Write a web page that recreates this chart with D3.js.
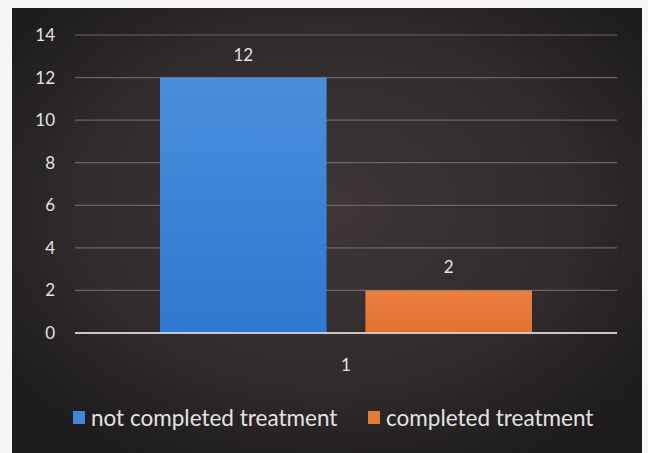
<!DOCTYPE html>
<html><head><meta charset="utf-8">
<script src="https://cdn.jsdelivr.net/npm/d3@7"></script>
<style>html,body{margin:0;padding:0;background:#f7f5f6;}svg{display:block;}</style>
</head><body>
<script>
const categories = ["1"];
const seriesNames = ["not completed treatment", "completed treatment"];
const seriesValues = [12, 2];
const seriesColors = ["#3f86d8", "#e87835"];
const yTicks = [0, 2, 4, 6, 8, 10, 12, 14];

const W = 648, H = 453;
const svg = d3.select("body").append("svg").attr("width", W).attr("height", H);
const defs = svg.append("defs");
const rg = defs.append("radialGradient").attr("id", "bg").attr("cx", "50%").attr("cy", "45%").attr("r", "65%");
rg.append("stop").attr("offset", "0%").attr("stop-color", "#3e3638");
rg.append("stop").attr("offset", "60%").attr("stop-color", "#302b2d");
rg.append("stop").attr("offset", "100%").attr("stop-color", "#1d1b1c");
const gb = defs.append("linearGradient").attr("id", "gblue").attr("x1", 0).attr("y1", 0).attr("x2", 0).attr("y2", 1);
gb.append("stop").attr("offset", "0%").attr("stop-color", "#4a8fdc");
gb.append("stop").attr("offset", "100%").attr("stop-color", "#2f78d0");
const go = defs.append("linearGradient").attr("id", "gorange").attr("x1", 0).attr("y1", 0).attr("x2", 0).attr("y2", 1);
go.append("stop").attr("offset", "0%").attr("stop-color", "#ec7f3e");
go.append("stop").attr("offset", "100%").attr("stop-color", "#e2712f");
const fills = ["url(#gblue)", "url(#gorange)"];

svg.append("rect").attr("x", 12).attr("y", 8).attr("width", 630).attr("height", H - 8).attr("fill", "url(#bg)");

const font = "Lato, 'Open Sans', sans-serif";
const plot = {left: 75, right: 617, top: 35, bottom: 333};
const y = d3.scaleLinear().domain([0, 14]).range([plot.bottom, plot.top]);
const x0 = d3.scaleBand().domain(categories).range([plot.left, plot.right]).paddingInner(0).paddingOuter(0.2285);
const x1 = d3.scaleBand().domain(seriesNames).range([0, x0.bandwidth()]).paddingInner(0.189);

// gridlines
svg.append("g").selectAll("line").data(yTicks.filter(d => d > 0)).join("line")
  .attr("x1", plot.left).attr("x2", plot.right)
  .attr("y1", d => y(d)).attr("y2", d => y(d))
  .attr("stroke", "#6a6466").attr("stroke-width", 1.2);

// y axis labels
const yAxis = d3.axisLeft(y).tickValues(yTicks).tickSize(0).tickPadding(0);
const ya = svg.append("g").attr("transform", `translate(55,0)`).call(yAxis);
ya.select(".domain").remove();
ya.selectAll("text").attr("fill", "#e4e2e2").attr("font-size", 17).attr("font-family", font);

// bars
const g = svg.append("g");
categories.forEach(c => {
  seriesNames.forEach((s, i) => {
    const bx = x0(c) + x1(s);
    g.append("rect").attr("x", bx).attr("y", y(seriesValues[i]))
      .attr("width", x1.bandwidth()).attr("height", y(0) - y(seriesValues[i]))
      .attr("fill", fills[i]);
    g.append("text").attr("x", bx + x1.bandwidth() / 2).attr("y", y(seriesValues[i]) - 17)
      .attr("text-anchor", "middle").attr("fill", "#e4e2e2").attr("font-size", 17).attr("font-family", font)
      .text(seriesValues[i]);
  });
});

// zero axis line
svg.append("line").attr("x1", plot.left).attr("x2", plot.right).attr("y1", y(0)).attr("y2", y(0))
  .attr("stroke", "#c9c6c8").attr("stroke-width", 2);

// x axis
const xAxis = d3.axisBottom(x0).tickSize(0).tickPadding(0);
const xa = svg.append("g").attr("transform", `translate(0,${plot.bottom + 26})`).call(xAxis);
xa.select(".domain").remove();
xa.selectAll("text").attr("fill", "#e4e2e2").attr("font-size", 17).attr("font-family", font);

// legend
const legendX = [73, 368];
const lg = svg.append("g");
seriesNames.forEach((s, i) => {
  lg.append("rect").attr("x", legendX[i]).attr("y", 411).attr("width", 12).attr("height", 13).attr("fill", seriesColors[i]);
  lg.append("text").attr("x", legendX[i] + 18).attr("y", 426).attr("fill", "#e4e2e2")
    .attr("font-size", 22.5).attr("font-family", font).text(s);
});
</script>
</body></html>
